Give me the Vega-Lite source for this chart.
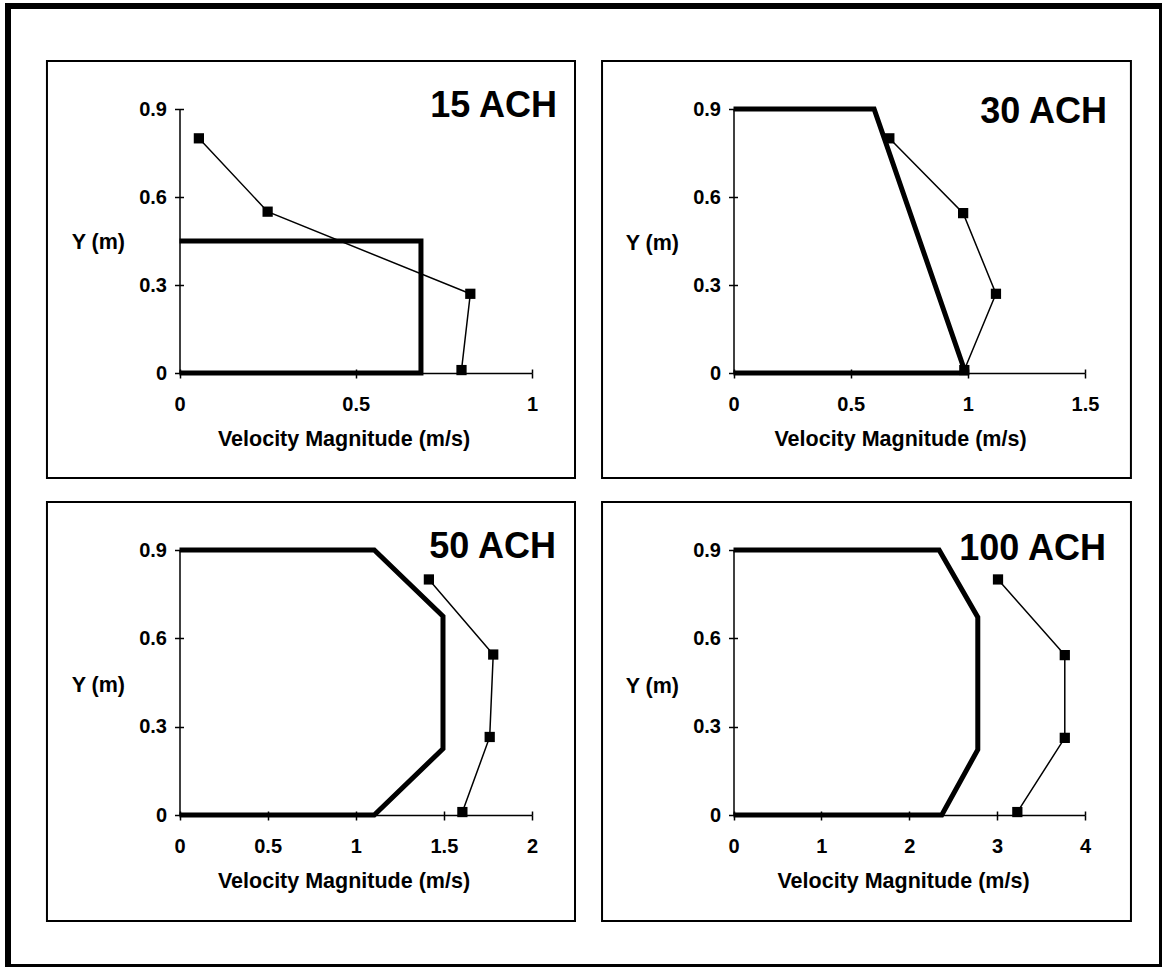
{
  "$schema": "https://vega.github.io/schema/vega-lite/v6.json",
  "width": 1154,
  "height": 961,
  "autosize": {"type": "none"},
  "padding": {"left": 8, "top": 6, "right": 0, "bottom": 0},
  "background": "white",
  "config": {
    "font": "Liberation Sans",
    "view": {"stroke": "#000", "strokeWidth": 6},
    "axis": {
      "grid": false,
      "labelFlush": false,
      "labelFont": "Liberation Sans",
      "labelFontSize": 20,
      "labelFontWeight": "bold",
      "labelColor": "#000",
      "titleFont": "Liberation Sans",
      "titleFontSize": 21.5,
      "titleFontWeight": "bold",
      "titleColor": "#000",
      "domainColor": "#000",
      "domainWidth": 1.5,
      "tickColor": "#000",
      "tickWidth": 1.5
    }
  },
  "datasets": {
    "model": [
      {"panel": "15 ACH", "i": 1, "v": 0, "y": 0.45},
      {"panel": "15 ACH", "i": 2, "v": 0.685, "y": 0.45},
      {"panel": "15 ACH", "i": 3, "v": 0.685, "y": 0},
      {"panel": "15 ACH", "i": 4, "v": 0, "y": 0},
      {"panel": "30 ACH", "i": 1, "v": 0, "y": 0.9},
      {"panel": "30 ACH", "i": 2, "v": 0.6, "y": 0.9},
      {"panel": "30 ACH", "i": 3, "v": 0.99, "y": 0},
      {"panel": "30 ACH", "i": 4, "v": 0, "y": 0},
      {"panel": "50 ACH", "i": 1, "v": 0, "y": 0.9},
      {"panel": "50 ACH", "i": 2, "v": 1.105, "y": 0.9},
      {"panel": "50 ACH", "i": 3, "v": 1.495, "y": 0.675},
      {"panel": "50 ACH", "i": 4, "v": 1.495, "y": 0.225},
      {"panel": "50 ACH", "i": 5, "v": 1.105, "y": 0},
      {"panel": "50 ACH", "i": 6, "v": 0, "y": 0},
      {"panel": "100 ACH", "i": 1, "v": 0, "y": 0.9},
      {"panel": "100 ACH", "i": 2, "v": 2.34, "y": 0.9},
      {"panel": "100 ACH", "i": 3, "v": 2.78, "y": 0.672},
      {"panel": "100 ACH", "i": 4, "v": 2.78, "y": 0.222},
      {"panel": "100 ACH", "i": 5, "v": 2.37, "y": 0},
      {"panel": "100 ACH", "i": 6, "v": 0, "y": 0}
    ],
    "measured": [
      {"panel": "15 ACH", "i": 1, "v": 0.055, "y": 0.8},
      {"panel": "15 ACH", "i": 2, "v": 0.25, "y": 0.55},
      {"panel": "15 ACH", "i": 3, "v": 0.825, "y": 0.27},
      {"panel": "15 ACH", "i": 4, "v": 0.8, "y": 0.01},
      {"panel": "30 ACH", "i": 1, "v": 0.665, "y": 0.8},
      {"panel": "30 ACH", "i": 2, "v": 0.98, "y": 0.545},
      {"panel": "30 ACH", "i": 3, "v": 1.12, "y": 0.27},
      {"panel": "30 ACH", "i": 4, "v": 0.985, "y": 0.01},
      {"panel": "50 ACH", "i": 1, "v": 1.415, "y": 0.8},
      {"panel": "50 ACH", "i": 2, "v": 1.78, "y": 0.545},
      {"panel": "50 ACH", "i": 3, "v": 1.76, "y": 0.265},
      {"panel": "50 ACH", "i": 4, "v": 1.605, "y": 0.01},
      {"panel": "100 ACH", "i": 1, "v": 3.01, "y": 0.8},
      {"panel": "100 ACH", "i": 2, "v": 3.77, "y": 0.543},
      {"panel": "100 ACH", "i": 3, "v": 3.77, "y": 0.262},
      {"panel": "100 ACH", "i": 4, "v": 3.23, "y": 0.01}
    ]
  },
  "layer": [
    {
      "layer": [
        {
          "data": {"name": "model"},
          "transform": [{"filter": "datum.panel === '15 ACH'"}],
          "mark": {"type": "line", "color": "#000", "strokeWidth": 5, "strokeCap": "butt"},
          "encoding": {
            "x": {"field": "v", "type": "quantitative", "scale": {"domain": [0, 1], "range": [171.5, 524], "nice": false, "zero": false},
              "axis": {"orient": "bottom", "offset": -594, "values": [0, 0.5, 1], "format": "~g", "tickSize": 5, "labelPadding": 16, "title": "Velocity Magnitude (m/s)", "titleX": 335.5, "titleY": 72, "titleBaseline": "alphabetic"}},
            "y": {"field": "y", "type": "quantitative", "scale": {"domain": [0, 0.9], "range": [367, 103], "nice": false, "zero": false},
              "axis": {"orient": "left", "offset": -171.5, "values": [0, 0.3, 0.6, 0.9], "format": "~g", "tickSize": 5, "labelPadding": 8, "title": "Y (m)", "titleAngle": 0, "titleAlign": "right", "titleBaseline": "middle", "titleX": -55, "titleY": 236}},
            "order": {"field": "i", "type": "quantitative"}
          }
        },
        {
          "data": {"name": "measured"},
          "transform": [{"filter": "datum.panel === '15 ACH'"}],
          "mark": {"type": "line", "color": "#000", "strokeWidth": 1.5},
          "encoding": {
            "x": {"field": "v", "type": "quantitative", "axis": {"orient": "bottom", "offset": -594, "values": [0, 0.5, 1], "tickSize": -4, "labels": false, "domain": false, "title": null}},
            "y": {"field": "y", "type": "quantitative", "axis": {"orient": "left", "offset": -171.5, "values": [0, 0.3, 0.6, 0.9], "tickSize": -4, "labels": false, "domain": false, "title": null}},
            "order": {"field": "i", "type": "quantitative"}
          }
        },
        {
          "data": {"name": "measured"},
          "transform": [{"filter": "datum.panel === '15 ACH'"}],
          "mark": {"type": "point", "shape": "square", "filled": true, "size": 105, "color": "#000", "opacity": 1},
          "encoding": {
            "x": {"field": "v", "type": "quantitative", "axis": null},
            "y": {"field": "y", "type": "quantitative", "axis": null}
          }
        },
        {
          "data": {"values": [{}]},
          "mark": {"type": "rect", "filled": false, "color": "#000", "strokeWidth": 2},
          "encoding": {
            "x": {"datum": -0.376, "axis": null}, "x2": {"datum": 1.122},
            "y": {"datum": -0.358, "axis": null}, "y2": {"datum": 1.0636}
          }
        },
        {
          "data": {"values": [{}]},
          "mark": {"type": "text", "text": "15 ACH", "fontSize": 36, "fontWeight": "bold", "align": "right", "baseline": "alphabetic", "color": "#000"},
          "encoding": {
            "x": {"datum": 1.071, "axis": null},
            "y": {"datum": 0.873, "axis": null}
          }
        }
      ],
      "resolve": {"axis": {"x": "independent", "y": "independent"}}
    },
    {
      "layer": [
        {
          "data": {"name": "model"},
          "transform": [{"filter": "datum.panel === '30 ACH'"}],
          "mark": {"type": "line", "color": "#000", "strokeWidth": 5, "strokeCap": "butt"},
          "encoding": {
            "x": {"field": "v", "type": "quantitative", "scale": {"domain": [0, 1.5], "range": [725.5, 1077], "nice": false, "zero": false},
              "axis": {"orient": "bottom", "offset": -594, "values": [0, 0.5, 1, 1.5], "format": "~g", "tickSize": 5, "labelPadding": 16, "title": "Velocity Magnitude (m/s)", "titleX": 892, "titleY": 72, "titleBaseline": "alphabetic"}},
            "y": {"field": "y", "type": "quantitative", "scale": {"domain": [0, 0.9], "range": [367, 103], "nice": false, "zero": false},
              "axis": {"orient": "left", "offset": -725.5, "values": [0, 0.3, 0.6, 0.9], "format": "~g", "tickSize": 5, "labelPadding": 8, "title": "Y (m)", "titleAngle": 0, "titleAlign": "right", "titleBaseline": "middle", "titleX": -55, "titleY": 237}},
            "order": {"field": "i", "type": "quantitative"}
          }
        },
        {
          "data": {"name": "measured"},
          "transform": [{"filter": "datum.panel === '30 ACH'"}],
          "mark": {"type": "line", "color": "#000", "strokeWidth": 1.5},
          "encoding": {
            "x": {"field": "v", "type": "quantitative", "axis": {"orient": "bottom", "offset": -594, "values": [0, 0.5, 1, 1.5], "tickSize": -4, "labels": false, "domain": false, "title": null}},
            "y": {"field": "y", "type": "quantitative", "axis": {"orient": "left", "offset": -725.5, "values": [0, 0.3, 0.6, 0.9], "tickSize": -4, "labels": false, "domain": false, "title": null}},
            "order": {"field": "i", "type": "quantitative"}
          }
        },
        {
          "data": {"name": "measured"},
          "transform": [{"filter": "datum.panel === '30 ACH'"}],
          "mark": {"type": "point", "shape": "square", "filled": true, "size": 105, "color": "#000", "opacity": 1},
          "encoding": {
            "x": {"field": "v", "type": "quantitative", "axis": null},
            "y": {"field": "y", "type": "quantitative", "axis": null}
          }
        },
        {
          "data": {"values": [{}]},
          "mark": {"type": "rect", "filled": false, "color": "#000", "strokeWidth": 2},
          "encoding": {
            "x": {"datum": -0.561, "axis": null}, "x2": {"datum": 1.696},
            "y": {"datum": -0.358, "axis": null}, "y2": {"datum": 1.0636}
          }
        },
        {
          "data": {"values": [{}]},
          "mark": {"type": "text", "text": "30 ACH", "fontSize": 36, "fontWeight": "bold", "align": "right", "baseline": "alphabetic", "color": "#000"},
          "encoding": {
            "x": {"datum": 1.594, "axis": null},
            "y": {"datum": 0.852, "axis": null}
          }
        }
      ],
      "resolve": {"axis": {"x": "independent", "y": "independent"}}
    },
    {
      "layer": [
        {
          "data": {"name": "model"},
          "transform": [{"filter": "datum.panel === '50 ACH'"}],
          "mark": {"type": "line", "color": "#000", "strokeWidth": 5, "strokeCap": "butt"},
          "encoding": {
            "x": {"field": "v", "type": "quantitative", "scale": {"domain": [0, 2], "range": [171.5, 524], "nice": false, "zero": false},
              "axis": {"orient": "bottom", "offset": -152, "values": [0, 0.5, 1, 1.5, 2], "format": "~g", "tickSize": 5, "labelPadding": 16, "title": "Velocity Magnitude (m/s)", "titleX": 335.5, "titleY": 72, "titleBaseline": "alphabetic"}},
            "y": {"field": "y", "type": "quantitative", "scale": {"domain": [0, 0.9], "range": [809, 544], "nice": false, "zero": false},
              "axis": {"orient": "left", "offset": -171.5, "values": [0, 0.3, 0.6, 0.9], "format": "~g", "tickSize": 5, "labelPadding": 8, "title": "Y (m)", "titleAngle": 0, "titleAlign": "right", "titleBaseline": "middle", "titleX": -55, "titleY": 679}},
            "order": {"field": "i", "type": "quantitative"}
          }
        },
        {
          "data": {"name": "measured"},
          "transform": [{"filter": "datum.panel === '50 ACH'"}],
          "mark": {"type": "line", "color": "#000", "strokeWidth": 1.5},
          "encoding": {
            "x": {"field": "v", "type": "quantitative", "axis": {"orient": "bottom", "offset": -152, "values": [0, 0.5, 1, 1.5, 2], "tickSize": -4, "labels": false, "domain": false, "title": null}},
            "y": {"field": "y", "type": "quantitative", "axis": {"orient": "left", "offset": -171.5, "values": [0, 0.3, 0.6, 0.9], "tickSize": -4, "labels": false, "domain": false, "title": null}},
            "order": {"field": "i", "type": "quantitative"}
          }
        },
        {
          "data": {"name": "measured"},
          "transform": [{"filter": "datum.panel === '50 ACH'"}],
          "mark": {"type": "point", "shape": "square", "filled": true, "size": 105, "color": "#000", "opacity": 1},
          "encoding": {
            "x": {"field": "v", "type": "quantitative", "axis": null},
            "y": {"field": "y", "type": "quantitative", "axis": null}
          }
        },
        {
          "data": {"values": [{}]},
          "mark": {"type": "rect", "filled": false, "color": "#000", "strokeWidth": 2},
          "encoding": {
            "x": {"datum": -0.752, "axis": null}, "x2": {"datum": 2.244},
            "y": {"datum": -0.36, "axis": null}, "y2": {"datum": 1.063}
          }
        },
        {
          "data": {"values": [{}]},
          "mark": {"type": "text", "text": "50 ACH", "fontSize": 36, "fontWeight": "bold", "align": "right", "baseline": "alphabetic", "color": "#000"},
          "encoding": {
            "x": {"datum": 2.136, "axis": null},
            "y": {"datum": 0.873, "axis": null}
          }
        }
      ],
      "resolve": {"axis": {"x": "independent", "y": "independent"}}
    },
    {
      "layer": [
        {
          "data": {"name": "model"},
          "transform": [{"filter": "datum.panel === '100 ACH'"}],
          "mark": {"type": "line", "color": "#000", "strokeWidth": 5, "strokeCap": "butt"},
          "encoding": {
            "x": {"field": "v", "type": "quantitative", "scale": {"domain": [0, 4], "range": [725.5, 1077], "nice": false, "zero": false},
              "axis": {"orient": "bottom", "offset": -152, "values": [0, 1, 2, 3, 4], "format": "~g", "tickSize": 5, "labelPadding": 16, "title": "Velocity Magnitude (m/s)", "titleX": 895, "titleY": 72, "titleBaseline": "alphabetic"}},
            "y": {"field": "y", "type": "quantitative", "scale": {"domain": [0, 0.9], "range": [809, 544], "nice": false, "zero": false},
              "axis": {"orient": "left", "offset": -725.5, "values": [0, 0.3, 0.6, 0.9], "format": "~g", "tickSize": 5, "labelPadding": 8, "title": "Y (m)", "titleAngle": 0, "titleAlign": "right", "titleBaseline": "middle", "titleX": -55, "titleY": 680}},
            "order": {"field": "i", "type": "quantitative"}
          }
        },
        {
          "data": {"name": "measured"},
          "transform": [{"filter": "datum.panel === '100 ACH'"}],
          "mark": {"type": "line", "color": "#000", "strokeWidth": 1.5},
          "encoding": {
            "x": {"field": "v", "type": "quantitative", "axis": {"orient": "bottom", "offset": -152, "values": [0, 1, 2, 3, 4], "tickSize": -4, "labels": false, "domain": false, "title": null}},
            "y": {"field": "y", "type": "quantitative", "axis": {"orient": "left", "offset": -725.5, "values": [0, 0.3, 0.6, 0.9], "tickSize": -4, "labels": false, "domain": false, "title": null}},
            "order": {"field": "i", "type": "quantitative"}
          }
        },
        {
          "data": {"name": "measured"},
          "transform": [{"filter": "datum.panel === '100 ACH'"}],
          "mark": {"type": "point", "shape": "square", "filled": true, "size": 105, "color": "#000", "opacity": 1},
          "encoding": {
            "x": {"field": "v", "type": "quantitative", "axis": null},
            "y": {"field": "y", "type": "quantitative", "axis": null}
          }
        },
        {
          "data": {"values": [{}]},
          "mark": {"type": "rect", "filled": false, "color": "#000", "strokeWidth": 2},
          "encoding": {
            "x": {"datum": -1.496, "axis": null}, "x2": {"datum": 4.523},
            "y": {"datum": -0.36, "axis": null}, "y2": {"datum": 1.063}
          }
        },
        {
          "data": {"values": [{}]},
          "mark": {"type": "text", "text": "100 ACH", "fontSize": 36, "fontWeight": "bold", "align": "right", "baseline": "alphabetic", "color": "#000"},
          "encoding": {
            "x": {"datum": 4.239, "axis": null},
            "y": {"datum": 0.866, "axis": null}
          }
        }
      ],
      "resolve": {"axis": {"x": "independent", "y": "independent"}}
    }
  ],
  "resolve": {
    "scale": {"x": "independent", "y": "independent"},
    "axis": {"x": "independent", "y": "independent"}
  }
}
